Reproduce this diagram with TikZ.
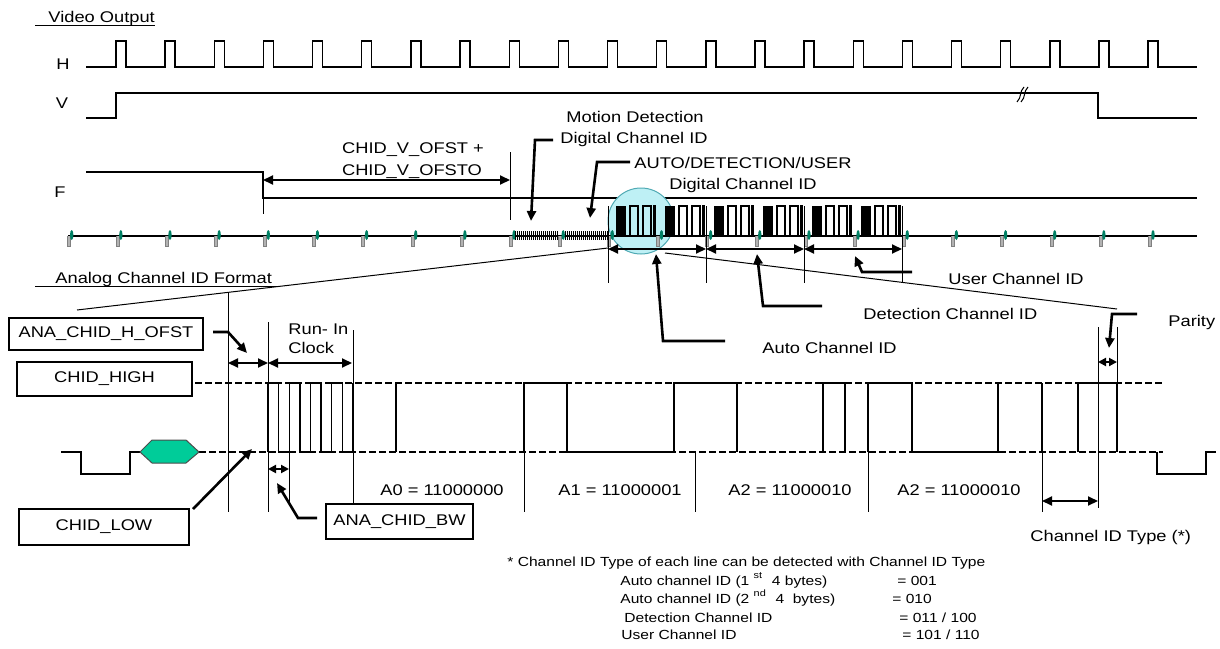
\documentclass[tikz,border=0pt]{standalone}
\usepackage{fontspec}
\setmainfont{Liberation Sans}[FakeStretch=1.18]
\usetikzlibrary{arrows.meta}
\definecolor{syncgreen}{RGB}{0,128,100}
\definecolor{hexgreen}{RGB}{0,204,153}
\definecolor{cyanfill}{RGB}{190,240,245}
\definecolor{cyanedge}{RGB}{80,170,180}
\tikzset{
  lbl/.style={font=\fontsize{7.75}{9}\selectfont, inner sep=0pt},
  small/.style={font=\fontsize{6.6}{8}\selectfont, inner sep=0pt},
  sig/.style={line width=0.7pt, black},
  thin/.style={line width=0.5pt, black},
  callout/.style={line width=1.3pt, -{Triangle[length=5pt,width=4.5pt]}},
  dim/.style={line width=1pt, {Triangle[length=5pt,width=4.5pt]}-{Triangle[length=5pt,width=4.5pt]}},
  dimshort/.style={line width=1pt, {Triangle[length=4pt,width=4pt]}-{Triangle[length=4pt,width=4pt]}},
  dashline/.style={line width=0.9pt, dash pattern=on 3.5pt off 1.5pt},
  box/.style={draw, line width=0.6pt, font=\fontsize{7.75}{9}\selectfont, inner sep=0pt}
}
\begin{document}
\begin{tikzpicture}[x=0.5pt,y=-0.5pt]
\useasboundingbox (0,0) rectangle (1220,648);
% ---- titles / labels
\node[lbl, anchor=base west] (title) at (48,22) {Video Output};
\draw[thin] (35,25) -- (155,25);
\node[lbl, anchor=base] (hl) at (63,69) {H};
\node[lbl, anchor=base] (vl) at (62,108) {V};
\node[lbl, anchor=base] (fl) at (60,197) {F};
% ---- H signal
\draw[sig] (86,67) \foreach \k in {0,...,21}{ -- ({116+49.15*\k},67) -- ++(0,-26) -- ++(10,0) -- ++(0,26)} -- (1197,67);
% ---- V signal
\draw[sig] (86,118) -- (116,118) -- (116,93) -- (1098,93) -- (1098,118) -- (1197,118);
\draw[thin] (1017,102) .. controls (1022,97) and (1019,92) .. (1024,87);
\draw[thin] (1021,102) .. controls (1026,97) and (1023,92) .. (1028,87);
% ---- F signal
\draw[sig] (86,172) -- (263,172) -- (263,198) -- (1197,198);
\draw[thin] (263,198) -- (263,214);
\draw[thin] (510,152) -- (510,220);
\draw[dim] (263,180) -- (510,180);
\node[lbl, anchor=base] (ofs1) at (413,153) {CHID\_V\_OFST +};
\node[lbl, anchor=base] (ofs2) at (412,175) {CHID\_V\_OFSTO};
\node[lbl, anchor=base] (md1) at (635,122) {Motion Detection};
\node[lbl, anchor=base] (md2) at (634,143) {Digital Channel ID};
\node[lbl, anchor=base] (adu1) at (743,168) {AUTO/DETECTION/USER};
\node[lbl, anchor=base] (adu2) at (743,189) {Digital Channel ID};
% ---- magnifier circle
\draw[fill=cyanfill, draw=cyanedge, line width=0.5pt] (641,221) circle [radius=33];
% ---- sync row
\draw[sig] (68,236) -- (1197,236);
\foreach \k in {0,...,22}{
  \pgfmathsetmacro\sx{67+49.15*\k}
  \draw[gray, line width=0.5pt, fill=gray!60] (\sx,236) -- (\sx,246) -- (\sx+3,246) -- (\sx+3,236);
  \fill[syncgreen] (\sx+4.7,235) ellipse [x radius=1.7, y radius=5];
}
\foreach \t in {515,517,...,557} \draw[line width=0.35pt] (\t,231) -- (\t,240);
\foreach \t in {565,567,...,607} \draw[line width=0.35pt] (\t,231) -- (\t,240);
\foreach \s in {608,657,706,755,804,853}{
  \fill (\s+8,206) rectangle (\s+18,236);
  \draw[sig] (\s+18,236) -- (\s+22,236) -- (\s+22,206) -- (\s+30,206) -- (\s+30,236) -- (\s+35,236) -- (\s+35,206) -- (\s+43,206) -- (\s+43,236) -- (\s+46,236) -- (\s+46,206) -- (\s+47,206) -- (\s+47,236);
}
\foreach \m in {608,706,804,902} \draw[thin] (\m,206) -- (\m,283);
\draw[dim] (608,249) -- (706,249);
\draw[dim] (706,249) -- (804,249);
\draw[dim] (804,249) -- (902,249);
% ---- zoom lines
\draw[thin] (608,248) -- (77,310);
\draw[thin] (665,253) -- (1117,309);
% ---- callouts
\draw[callout] (553,140) -- (535,140) -- (531,221);
\draw[callout] (630,162) -- (597,162) -- (590,218);
\draw[callout] (725,341) -- (663,341) -- (656,254);
\draw[callout] (822,306) -- (763,306) -- (757,254);
\draw[callout] (912,272) -- (862,272) -- (855,256);
\draw[callout] (1137,314) -- (1112,314) -- (1109,348);
\node[lbl, anchor=base west] (aci) at (762,353) {Auto Channel ID};
\node[lbl, anchor=base west] (uci) at (948,284) {User Channel ID};
\node[lbl, anchor=base west] (dci) at (863,319) {Detection Channel ID};
\node[lbl, anchor=base west] (par) at (1168,326) {Parity};
% ---- analog section
\node[lbl, anchor=base west] (acf) at (55,283) {Analog Channel ID Format};
\draw[thin] (35,286) -- (278,286);
\node[box, minimum width=97pt, minimum height=16pt] (hofst) at (106,334) {ANA\_CHID\_H\_OFST};
\node[box, minimum width=87.5pt, minimum height=17pt] (high) at (104.5,379) {CHID\_HIGH};
\node[box, minimum width=85pt, minimum height=18pt] (low) at (104,527) {CHID\_LOW};
\node[box, minimum width=73.5pt, minimum height=17.5pt] (bw) at (399.5,521.5) {ANA\_CHID\_BW};
\node[lbl, anchor=base west] (run) at (288,334) {Run- In};
\node[lbl, anchor=base west] (clk) at (288,353) {Clock};
\draw[dashline] (195,383) -- (1163,383);
\draw[dashline] (199,452) -- (1163,452);
\draw[sig] (61,452) -- (81,452) -- (81,474) -- (130,474) -- (130,452) -- (140,452);
\filldraw[fill=hexgreen, draw=black!70, line width=0.5pt] (140,452) -- (152,440) -- (186,440) -- (199,452) -- (186,463) -- (152,463) -- cycle;
\draw[sig] (1157,452) -- (1157,474) -- (1206,474) -- (1206,452) -- (1216,452);
% run-in clock
\draw[sig] (268,452) \foreach \i in {0,1,2,3}{ -- ({268+21.2*\i},452) -- ({268+21.2*\i},383) -- ({278.6+21.2*\i},383) -- ({278.6+21.2*\i},452) } -- (353,452);
% data edges and segments
\draw[sig] (353,452) -- (353,383);
\draw[sig] (396,383) -- (396,452);
\draw[sig] (524,452) -- (524,383) -- (567,383) -- (567,452) -- (674,452) -- (674,383) -- (737,383) -- (737,452);
\draw[sig] (823,452) -- (823,383) -- (845,383) -- (845,452);
\draw[sig] (868,452) -- (868,383) -- (912,383) -- (912,452) -- (998,452) -- (998,383);
\draw[sig] (1042,383) -- (1042,452);
\draw[sig] (1078,452) -- (1078,383) -- (1117,383) -- (1117,452);
% markers
\draw[thin] (228,292) -- (228,512);
\draw[thin] (268,322) -- (268,512);
\draw[thin] (289,452) -- (289,503);
\draw[thin] (353,330) -- (353,505);
\draw[thin] (524,452) -- (524,512);
\draw[thin] (695,452) -- (695,512);
\draw[thin] (868,452) -- (868,512);
\draw[thin] (1042,452) -- (1042,512);
\draw[thin] (1098,327) -- (1098,508);
\draw[thin] (1117,327) -- (1117,383);
\draw[dim] (228,363) -- (268,363);
\draw[dim] (268,363) -- (352,363);
\draw[dimshort] (268,469) -- (289,469);
\draw[dimshort] (1098,362) -- (1117,362);
\draw[dim] (1042,501) -- (1098,501);
\draw[callout] (213,332) -- (228,332) -- (247,353);
\draw[callout] (193,509) -- (252,449);
\draw[callout] (317,518) -- (298,518) -- (277,483);
\node[lbl, anchor=base west] (a0) at (380,495) {A0 = 11000000};
\node[lbl, anchor=base west] (a1) at (558,495) {A1 = 11000001};
\node[lbl, anchor=base west] (a2) at (728,495) {A2 = 11000010};
\node[lbl, anchor=base west] (a3) at (897,495) {A2 = 11000010};
\node[lbl, anchor=base west] (cit) at (1030,541) {Channel ID Type (*)};
% ---- notes
\node[small, anchor=base west] (n0) at (507,566) {* Channel ID Type of each line can be detected with Channel ID Type};
\node[small, anchor=base west] (n1) at (620,585) {Auto channel ID (1 \textsuperscript{st}\ \ 4 bytes)};
\node[small, anchor=base west] (n1b) at (897,585) {= 001};
\node[small, anchor=base west] (n2) at (620,603) {Auto channel ID (2 \textsuperscript{nd}\ \ 4\ \ bytes)};
\node[small, anchor=base west] (n2b) at (892,603) {= 010};
\node[small, anchor=base west] (n3) at (624,622) {Detection Channel ID};
\node[small, anchor=base west] (n3b) at (899,622) {= 011 / 100};
\node[small, anchor=base west] (n4) at (621,639) {User Channel ID};
\node[small, anchor=base west] (n4b) at (902,639) {= 101 / 110};
\end{tikzpicture}
\end{document}
